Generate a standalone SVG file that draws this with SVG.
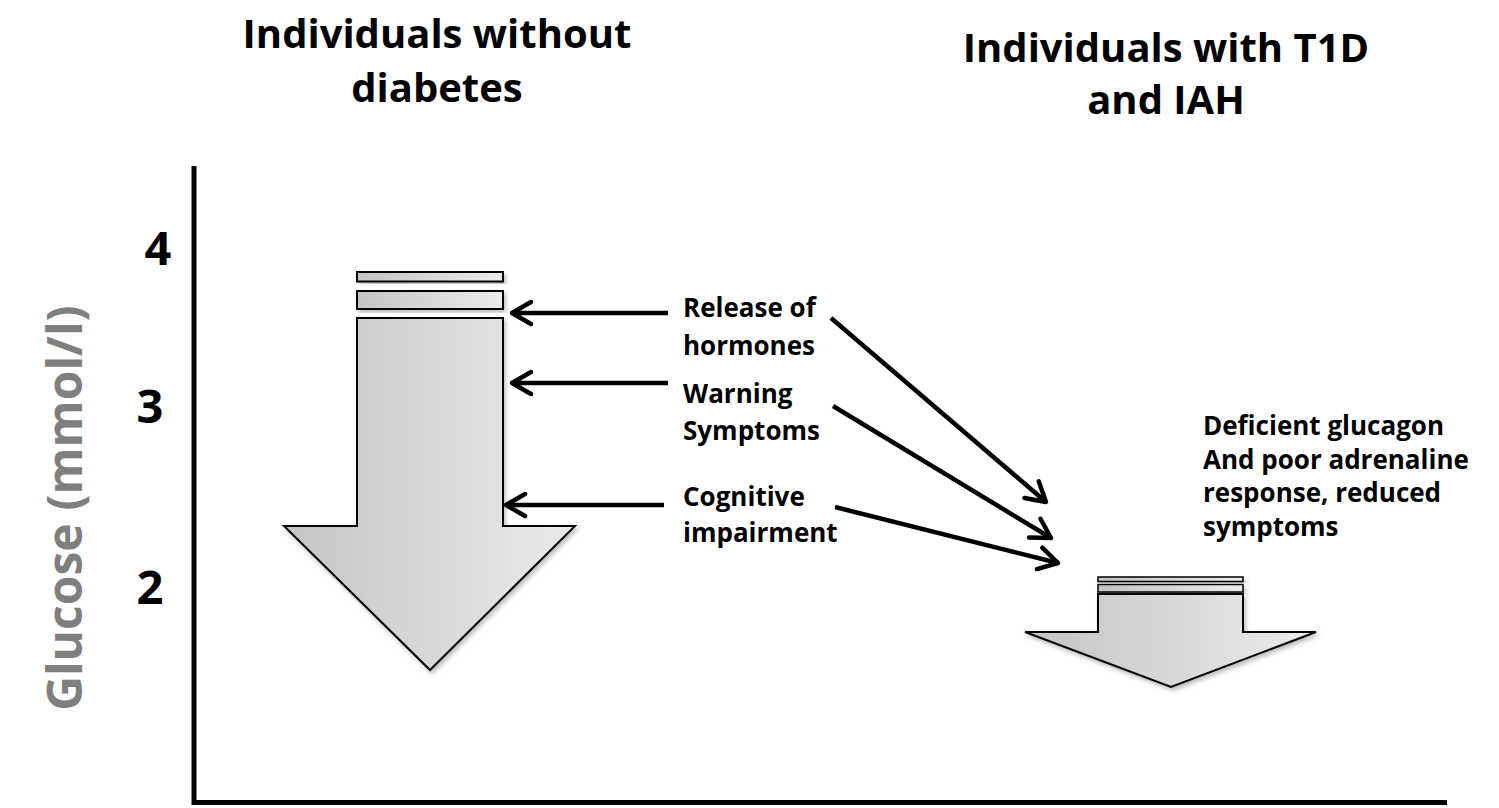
<svg xmlns="http://www.w3.org/2000/svg" width="1499" height="808" viewBox="0 0 1499 808">
<defs>
<linearGradient id="g" x1="0" y1="0" x2="1" y2="0">
<stop offset="0" stop-color="#c4c4c4"/>
<stop offset="1" stop-color="#ebebeb"/>
</linearGradient>
<filter id="sh" x="-10%" y="-10%" width="130%" height="130%">
<feDropShadow dx="2" dy="3" stdDeviation="2" flood-color="#000" flood-opacity="0.25"/>
</filter>
<marker id="chev" viewBox="-26 -16 30 32" refX="0" refY="0" markerWidth="30" markerHeight="32" markerUnits="userSpaceOnUse" orient="auto">
<path d="M-19,-11 L0,0 L-19,11" fill="none" stroke="#000" stroke-width="4.5" stroke-linecap="round" stroke-linejoin="round"/>
</marker>
</defs>
<style>
.t{font-family:"Open Sans","Liberation Sans",sans-serif;font-weight:bold;fill:#000}
.title{font-size:40px;text-anchor:middle}
.lbl{font-size:26px}
.num{font-size:47px;text-anchor:middle}
.ax{stroke:#000;stroke-width:5;fill:none}
.shape{fill:url(#g);stroke:#000;stroke-width:2;filter:url(#sh)}
.thin{stroke-width:1.5}
.con{stroke:#000;stroke-width:4.5;fill:none;marker-end:url(#chev)}
</style>
<g id="title-left"><text class="t title" x="437" y="48">Individuals without</text><text class="t title" x="437" y="102">diabetes</text></g>
<g id="title-right"><text class="t title" x="1166" y="62">Individuals with T1D</text><text class="t title" x="1166" y="114">and IAH</text></g>
<g id="axes">
<line class="ax" x1="194" y1="166" x2="194" y2="805"/>
<line class="ax" x1="192" y1="802.5" x2="1447" y2="802.5"/>
</g>
<g id="y-label"><text class="t" transform="translate(82,508) rotate(-90)" style="font-size:48px;text-anchor:middle;fill:#7f7f7f">Glucose (mmol/l)</text></g>
<g id="ticks">
<text class="t num" x="158" y="265">4</text>
<text class="t num" x="150" y="423">3</text>
<text class="t num" x="150" y="604">2</text>
</g>
<g id="arrow-normal">
<rect class="shape" x="357" y="272" width="146" height="9.5"/>
<rect class="shape" x="357" y="291" width="146" height="18"/>
<polygon class="shape" points="357,318 503,318 503,526 575,526 430,670 284,526 357,526"/>
</g>
<g id="arrow-iah">
<rect class="shape thin" x="1098" y="577" width="145" height="4.5"/>
<rect class="shape thin" x="1098" y="584.5" width="145" height="7.5"/>
<polygon class="shape" points="1098,594 1243,594 1243,632 1316,632 1171,687 1025,632 1098,632"/>
</g>
<g id="label-release"><text class="t lbl" x="683" y="317">Release of</text><text class="t lbl" x="683" y="355">hormones</text></g>
<g id="label-warning"><text class="t lbl" x="683" y="403">Warning</text><text class="t lbl" x="683" y="440">Symptoms</text></g>
<g id="label-cognitive"><text class="t lbl" x="683" y="506">Cognitive</text><text class="t lbl" x="683" y="542">impairment</text></g>
<g id="label-iah"><text class="t lbl" x="1203" y="435">Deficient glucagon</text><text class="t lbl" x="1203" y="469">And poor adrenaline</text><text class="t lbl" x="1203" y="502">response, reduced</text><text class="t lbl" x="1203" y="536">symptoms</text></g>
<g id="connectors">
<line class="con" x1="668" y1="313" x2="512" y2="313"/>
<line class="con" x1="668" y1="383" x2="512" y2="383"/>
<line class="con" x1="664" y1="505" x2="506" y2="505"/>
<line class="con" x1="831" y1="318" x2="1046" y2="502"/>
<line class="con" x1="833" y1="406" x2="1051" y2="538"/>
<line class="con" x1="835" y1="507" x2="1058" y2="563"/>
</g>
</svg>
